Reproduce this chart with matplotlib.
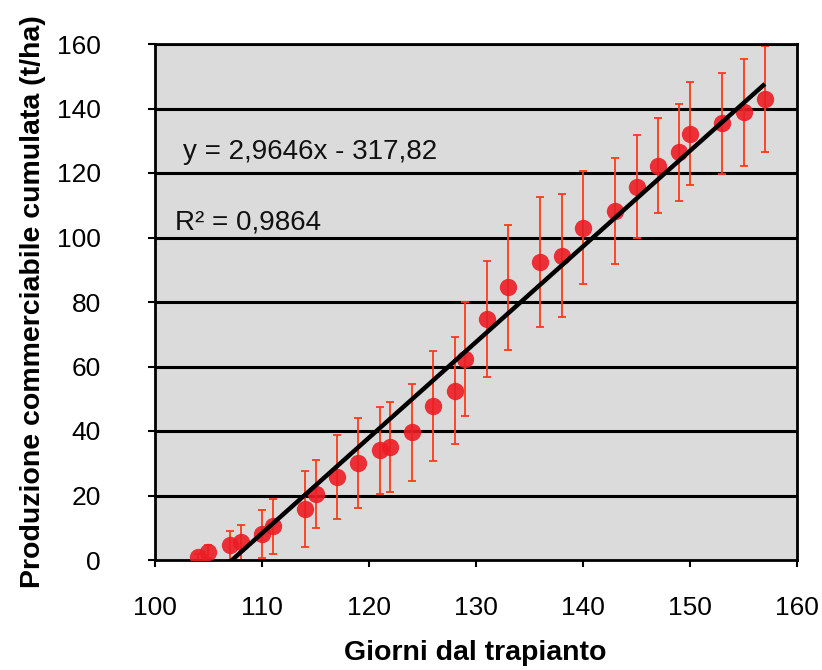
import matplotlib
matplotlib.use("Agg")
import matplotlib.pyplot as plt
import numpy as np

plt.rcParams['font.family'] = ['Liberation Sans', 'DejaVu Sans']

# Data
days = [104, 105, 107, 108, 110, 111, 114, 115, 117, 119, 121, 122, 124, 126, 128,
        129, 131, 133, 136, 138, 140, 143, 145, 147, 149, 150, 153, 155, 157]
prod = [1, 2.5, 4.5, 5.5, 8, 10.5, 15.8, 20.5, 25.7, 30, 34, 35, 39.6, 47.8, 52.5,
        62.3, 74.7, 84.5, 92.3, 94.4, 103.1, 108.3, 115.7, 122.3, 126.4, 132.2, 135.4, 138.8, 143]
err = [1, 2, 4.5, 5.5, 7.5, 8.5, 11.8, 10.5, 13, 14, 13.5, 14, 15, 17, 16.5,
       17.7, 18, 19.5, 20.2, 19, 17.5, 16.5, 16, 14.8, 15, 15.9, 15.6, 16.5, 16.5]
slope = 2.9646
intercept = -317.82
r2 = 0.9864
trend_x = [107.0, 157.0]

xticks = [100, 110, 120, 130, 140, 150, 160]
yticks = [0, 20, 40, 60, 80, 100, 120, 140, 160]

W, H = 822, 670
fig = plt.figure(figsize=(W / 100, H / 100), dpi=100)
ax = fig.add_axes([155 / W, 1 - 560 / H, (797 - 155) / W, (560 - 44) / H])
ax.set_facecolor('#dbdbdb')

ax.set_xlim(100, 160)
ax.set_ylim(0, 160)

for y in yticks[1:]:
    ax.axhline(y, color='black', lw=2.2, zorder=1)

ax.errorbar(days, prod, yerr=err, fmt='none', ecolor='#ff3a1a', elinewidth=1.3,
            capsize=3, capthick=1.3, zorder=2)
ax.plot(days, prod, 'o', color='#ec1c24', markersize=12.5, markeredgewidth=0,
        alpha=0.9, zorder=3)

tx = np.array(trend_x)
ax.plot(tx, slope * tx + intercept, color='black', lw=3.2, zorder=4, solid_capstyle='butt')

eq = "y = {}x - {}".format(str(slope).replace('.', ','), str(-intercept).replace('.', ','))
ax.text(102.6, 126.5, eq, fontsize=20, color='#111111', va='center', ha='left', zorder=5)
ax.text(101.9, 104.8, "R² = " + str(r2).replace('.', ','), fontsize=20, color='#111111',
        va='center', ha='left', zorder=5)

ax.set_xticks(xticks)
ax.set_yticks(yticks)
ax.tick_params(axis='both', direction='out', length=5, width=1.5, labelsize=19,
               colors='black')
ax.tick_params(axis='x', pad=21)
ax.tick_params(axis='y', pad=34)
for s in ax.spines.values():
    s.set_linewidth(2)
    s.set_color('black')

fig.text(475 / W, 1 - 653 / H, 'Giorni dal trapianto', fontsize=20.5, fontweight='bold',
         ha='center', va='center')
fig.text(33 / W, 1 - 302 / H, 'Produzione commerciabile cumulata (t/ha)', fontsize=20.5,
         fontweight='bold', ha='center', va='center', rotation=90)

fig.savefig('out.png', dpi=100)
